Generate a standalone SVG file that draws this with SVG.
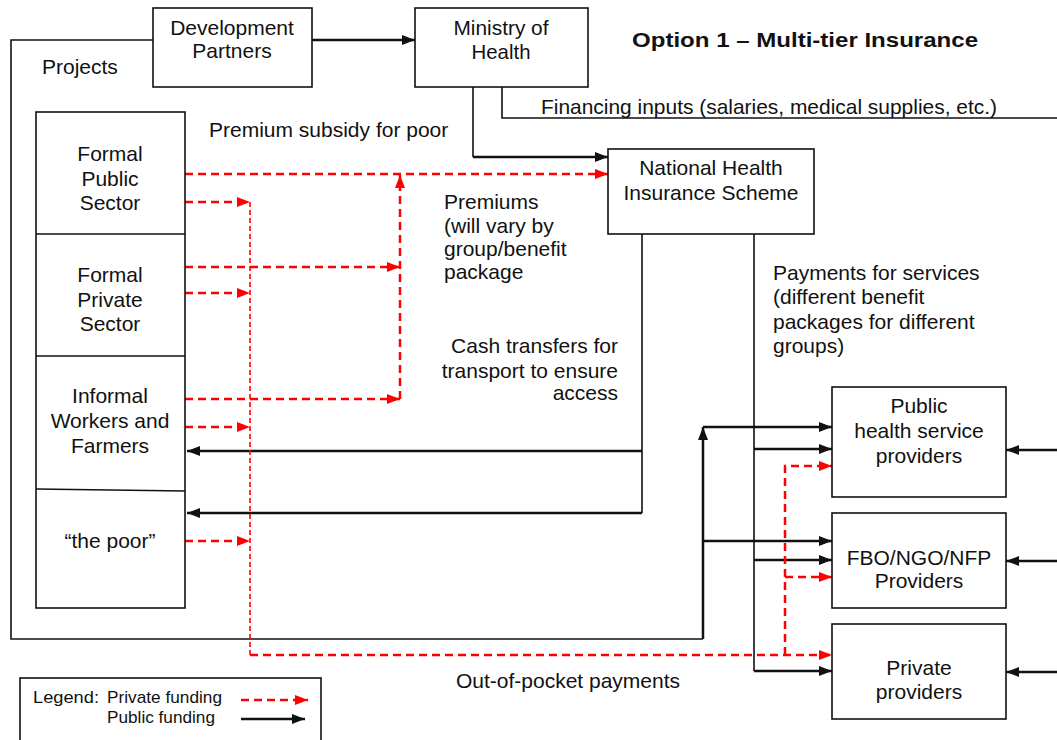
<svg xmlns="http://www.w3.org/2000/svg" width="1057" height="740" viewBox="0 0 1057 740">
<defs>
<style>
text{font-family:"Liberation Sans",Arial,sans-serif;font-size:21px;fill:#111}
.c{text-anchor:middle}
.r{text-anchor:end}
.box{fill:#fff;stroke:#111;stroke-width:1.6}
.blk{fill:none;stroke:#111;stroke-width:2.5}
.thin{fill:none;stroke:#111;stroke-width:1.6}
.red{fill:none;stroke:#f00;stroke-width:2.5;stroke-dasharray:8 5}
.redthin{fill:none;stroke:#f00;stroke-width:1.6;stroke-dasharray:5 3}
.title{font-weight:bold;font-size:20px}
.leg{font-size:17px}
</style>
<marker id="ab" viewBox="0 0 13 10" refX="13" refY="5" markerWidth="13" markerHeight="10" markerUnits="userSpaceOnUse" orient="auto"><path d="M0,0L13,5L0,10z" fill="#111"/></marker>
<marker id="ar" viewBox="0 0 13 10" refX="13" refY="5" markerWidth="13" markerHeight="10" markerUnits="userSpaceOnUse" orient="auto"><path d="M0,0L13,5L0,10z" fill="#f00"/></marker>
</defs>
<rect width="1057" height="740" fill="#fff"/>

<g id="connectors">
<path class="blk" d="M312,40H415" marker-end="url(#ab)"/>
<path class="thin" d="M153,40H11V639H703"/>
<path class="blk" d="M703,639V427" marker-end="url(#ab)"/>
<path class="blk" d="M703,427H832" marker-end="url(#ab)"/>
<path class="blk" d="M703,541H832" marker-end="url(#ab)"/>
<path class="thin" d="M473,87V157"/>
<path class="blk" d="M473,157H608" marker-end="url(#ab)"/>
<path class="thin" d="M502,87V118H1057"/>
<path class="thin" d="M642,234V513"/>
<path class="blk" d="M642,513H187" marker-end="url(#ab)"/>
<path class="blk" d="M642,451H187" marker-end="url(#ab)"/>
<path class="thin" d="M754,234V671"/>
<path class="blk" d="M754,671H832" marker-end="url(#ab)"/>
<path class="blk" d="M754,449H832" marker-end="url(#ab)"/>
<path class="blk" d="M754,560H832" marker-end="url(#ab)"/>
<path class="blk" d="M1057,450H1006" marker-end="url(#ab)"/>
<path class="blk" d="M1057,561H1006" marker-end="url(#ab)"/>
<path class="blk" d="M1057,672H1006" marker-end="url(#ab)"/>

<path class="red" d="M185,174H608" marker-end="url(#ar)"/>
<path class="red" d="M185,202H250" marker-end="url(#ar)"/>
<path class="red" d="M185,267H400" marker-end="url(#ar)"/>
<path class="red" d="M185,293H250" marker-end="url(#ar)"/>
<path class="red" d="M185,399H400" marker-end="url(#ar)"/>
<path class="red" d="M400,399V175" marker-end="url(#ar)"/>
<path class="red" d="M185,427H250" marker-end="url(#ar)"/>
<path class="red" d="M185,541H250" marker-end="url(#ar)"/>
<path class="redthin" d="M250,202V655"/>
<path class="red" d="M250,655H832" marker-end="url(#ar)"/>
<path class="red" d="M785,655V466H832" marker-end="url(#ar)"/>
<path class="red" d="M785,577H832" marker-end="url(#ar)"/>
</g>

<g id="dev-partners">
<rect class="box" x="153" y="8" width="159" height="79"/>
<text class="c" x="232" y="35">Development</text>
<text class="c" x="232" y="58">Partners</text>
</g>

<g id="ministry">
<rect class="box" x="415" y="8" width="173" height="79"/>
<text class="c" x="501" y="35" textLength="95" lengthAdjust="spacingAndGlyphs">Ministry of</text>
<text class="c" x="501" y="59" textLength="59" lengthAdjust="spacingAndGlyphs">Health</text>
</g>

<g id="title">
<text class="title" x="632" y="47" textLength="346" lengthAdjust="spacingAndGlyphs">Option 1 – Multi-tier Insurance</text>
</g>

<g id="nhis">
<rect class="box" x="608" y="149" width="206" height="85"/>
<text class="c" x="711" y="175">National Health</text>
<text class="c" x="711" y="200">Insurance Scheme</text>
</g>

<g id="population">
<rect class="box" x="36" y="112" width="149" height="496"/>
<line class="thin" x1="36" y1="234" x2="185" y2="234"/>
<line class="thin" x1="36" y1="356" x2="185" y2="356"/>
<line class="thin" x1="36" y1="489" x2="185" y2="491"/>
</g>
<g id="formal-public">
<text class="c" x="110" y="161">Formal</text>
<text class="c" x="110" y="186">Public</text>
<text class="c" x="110" y="210">Sector</text>
</g>
<g id="formal-private">
<text class="c" x="110" y="282">Formal</text>
<text class="c" x="110" y="307">Private</text>
<text class="c" x="110" y="331">Sector</text>
</g>
<g id="informal">
<text class="c" x="110" y="403">Informal</text>
<text class="c" x="110" y="428">Workers and</text>
<text class="c" x="110" y="453">Farmers</text>
</g>
<g id="poor">
<text class="c" x="110" y="548">“the poor”</text>
</g>

<g id="public-providers">
<rect class="box" x="832" y="387" width="174" height="110"/>
<text class="c" x="919" y="413">Public</text>
<text class="c" x="919" y="438">health service</text>
<text class="c" x="919" y="463">providers</text>
</g>
<g id="fbo-providers">
<rect class="box" x="832" y="513" width="174" height="95"/>
<text class="c" x="919" y="565">FBO/NGO/NFP</text>
<text class="c" x="919" y="588">Providers</text>
</g>
<g id="private-providers">
<rect class="box" x="832" y="624" width="174" height="95"/>
<text class="c" x="919" y="675">Private</text>
<text class="c" x="919" y="699">providers</text>
</g>

<g id="labels">
<text x="42" y="74">Projects</text>
<text x="209" y="137">Premium subsidy for poor</text>
<text x="541" y="114" textLength="456" lengthAdjust="spacingAndGlyphs">Financing inputs (salaries, medical supplies, etc.)</text>
<text x="444" y="209">Premiums</text>
<text x="444" y="233">(will vary by</text>
<text x="444" y="256">group/benefit</text>
<text x="444" y="279">package</text>
<text class="r" x="618" y="353">Cash transfers for</text>
<text class="r" x="618" y="378">transport to ensure</text>
<text class="r" x="618" y="400">access</text>
<text x="773" y="280">Payments for services</text>
<text x="773" y="304">(different benefit</text>
<text x="773" y="329">packages for different</text>
<text x="773" y="353">groups)</text>
<text x="456" y="688" textLength="224" lengthAdjust="spacingAndGlyphs">Out-of-pocket payments</text>
</g>

<g id="legend">
<rect class="box" x="20" y="678" width="301" height="80"/>
<text class="leg" x="33" y="703" textLength="66" lengthAdjust="spacingAndGlyphs">Legend:</text>
<text class="leg" x="107" y="703" textLength="115" lengthAdjust="spacingAndGlyphs">Private funding</text>
<text class="leg" x="107" y="723" textLength="108" lengthAdjust="spacingAndGlyphs">Public funding</text>
<path class="red" d="M241,700H308" marker-end="url(#ar)"/>
<path class="blk" d="M241,719H305" marker-end="url(#ab)"/>
</g>
</svg>
